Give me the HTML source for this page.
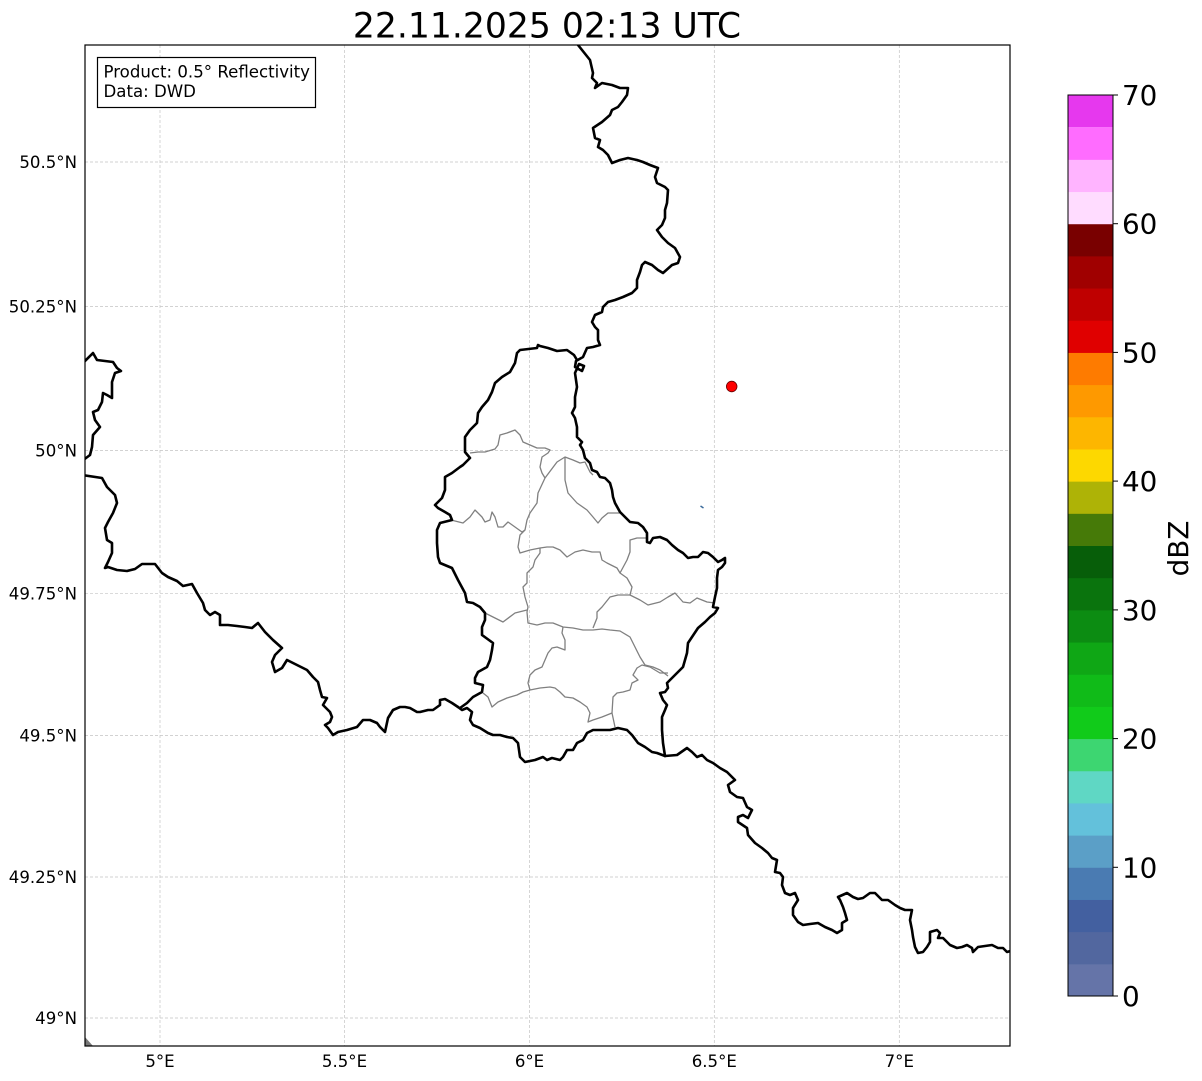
<!DOCTYPE html>
<html><head><meta charset="utf-8"><style>
html,body{margin:0;padding:0;background:#fff;}
svg{display:block;font-family:"DejaVu Sans","Liberation Sans",sans-serif;}
</style></head><body>
<svg width="1202" height="1081" viewBox="0 0 1202 1081" xmlns="http://www.w3.org/2000/svg">
<rect x="0" y="0" width="1202" height="1081" fill="#fff"/>
<text x="547" y="37.5" font-size="34.6" text-anchor="middle" fill="#000">22.11.2025 02:13 UTC</text>
<defs><clipPath id="ax"><rect x="85" y="45" width="925" height="1001"/></clipPath></defs>
<g clip-path="url(#ax)">
<g stroke="#c4c4c4" stroke-width="0.7" stroke-dasharray="3,2" fill="none">
<line x1="160" y1="45" x2="160" y2="1046"/><line x1="344.5" y1="45" x2="344.5" y2="1046"/><line x1="529.5" y1="45" x2="529.5" y2="1046"/><line x1="714.3" y1="45" x2="714.3" y2="1046"/><line x1="899.3" y1="45" x2="899.3" y2="1046"/>
<line x1="85" y1="162" x2="1010" y2="162"/><line x1="85" y1="306.5" x2="1010" y2="306.5"/><line x1="85" y1="450.5" x2="1010" y2="450.5"/><line x1="85" y1="593.3" x2="1010" y2="593.3"/><line x1="85" y1="735.4" x2="1010" y2="735.4"/><line x1="85" y1="877" x2="1010" y2="877"/><line x1="85" y1="1018" x2="1010" y2="1018"/>
</g>
<polygon points="85,1037 93,1046 85,1046" fill="#777"/>
<g stroke="#808080" stroke-width="1.3" fill="none" stroke-linejoin="round">
<path d="M470,453 L478,452 L485,452 L495,449 L498,445 L500,435 L507,433 L515,430 L520,435 L523,442 L530,445 L537,448 L545,448 L550,450 L548,453 L542,457 L540,467 L542,473 L545,478 L538,493 L537,503 L530,513 L527,520 L525,530 L520,535 L518,547 L520,553 L530,550 L540,548 L547,547 L553,547 L560,550 L567,557 L575,552 L583,550 L592,552 L600,552 L602,560 L607,563 L617,568 L620,573 L627,578 L632,587 L630,595 L640,600 L648,605 L660,602 L668,597 L675,593 L683,602 L690,603 L697,598 L707,602 L715,603"/>
<path d="M545,478 L557,462 L565,457 L573,460 L580,463 L585,462 L590,472 L593,475"/>
<path d="M565,457 L565,480 L568,493 L577,503 L587,510 L593,517 L598,523 L602,518 L608,513 L617,513 L622,513"/>
<path d="M451,520 L463,523 L470,517 L475,510 L482,517 L485,522 L490,520 L492,512 L495,517 L498,527 L503,527 L508,522 L515,527 L522,532 L525,530"/>
<path d="M620,573 L627,560 L630,552 L630,540 L637,538 L647,538"/>
<path d="M630,595 L618,595 L610,597 L602,607 L597,612 L597,618 L593,628"/>
<path d="M540,548 L540,553 L535,560 L533,567 L527,573 L527,583 L523,587 L525,597 L528,607 L527,612 L528,623 L537,625 L545,623 L553,623 L563,627 L573,628 L583,630 L593,630 L602,629 L610,630 L620,631 L630,637 L635,647 L640,657 L645,665 L653,667 L660,670 L668,676"/>
<path d="M485,613 L493,617 L503,622 L515,613 L527,610"/>
<path d="M563,627 L562,633 L565,640 L565,650 L557,647 L552,648 L548,653 L545,660 L542,667 L535,670 L530,675 L528,683 L530,690"/>
<path d="M483,693 L488,697 L492,707 L498,702 L507,698 L517,695 L523,692 L530,690 L540,688 L550,687 L555,688 L560,692 L565,697 L573,698 L580,702 L587,707 L590,713 L588,722 L593,720 L602,717 L612,713 L615,727"/>
<path d="M612,713 L613,697 L617,693 L623,692 L630,690 L632,683 L638,680 L633,675 L637,668 L642,665 L650,667 L660,673 L668,673"/>
</g>
<g stroke="#000" stroke-width="2.6" fill="none" stroke-linejoin="round" stroke-linecap="round">
<path d="M578,45 L590,60 L593,73 L592,78 L597,83 L595,88 L602,83 L612,85 L620,88 L628,88 L627,95 L622,102 L618,107 L612,110 L610,115 L602,122 L593,128 L595,138 L600,140 L598,147 L603,150 L608,155 L612,163 L620,160 L628,158 L637,160 L643,162 L650,165 L658,168 L655,177 L657,183 L665,187 L668,190 L667,203 L665,210 L665,218 L662,225 L657,230 L662,237 L668,243 L675,248 L680,257 L678,263 L672,265 L663,273 L658,270 L652,265 L645,262 L642,265 L640,272 L637,280 L637,288 L632,293 L623,297 L615,300 L608,302 L603,307 L602,312 L595,315 L592,322 L595,327 L598,330 L598,340 L600,345 L593,347 L587,348 L583,357 L576,361 L575,367 L582,371 L584,366 L579,364 L575,373 L577,387 L575,397 L575,407 L572,413 L575,418 L577,427 L577,437 L582,442 L580,445 L583,450 L585,458 L590,463 L592,470 L597,472 L600,477 L605,478 L610,483 L612,490 L613,497 L615,503 L620,512 L625,517 L630,522 L638,523 L643,527 L647,533 L647,542 L650,543 L653,538 L660,537 L667,540 L672,545 L678,550 L683,553 L688,558 L693,557 L698,557 L703,552 L708,553 L713,557 L718,562 L722,560 L725,558 L725,563 L722,567 L718,570 L717,578 L717,588 L715,597 L713,607 L718,608 L715,613 L710,617 L705,622 L698,628 L692,637 L688,643 L687,653 L685,660 L683,667 L677,673 L672,678 L667,683 L668,688 L665,692 L660,693 L663,700 L667,705 L665,710 L662,717 L662,730 L663,743 L665,756 L677,755 L687,748 L692,752 L697,757 L702,755 L707,760 L713,763 L720,768 L727,772 L735,780 L728,785 L730,792 L737,797 L743,798 L747,807 L752,810 L748,818 L743,815 L738,817 L738,822 L747,828 L748,835 L755,843 L762,848 L768,853 L772,858 L777,860 L775,872 L780,873 L783,877 L782,885 L785,893 L790,895 L795,893 L798,900 L793,908 L793,915 L798,922 L803,925 L810,924 L818,923 L825,927 L832,930 L837,933 L842,930 L842,923 L847,920 L845,913 L843,907 L840,900 L838,897 L847,893 L853,897 L858,899 L863,898 L870,893 L875,893 L882,900 L888,900 L895,905 L900,908 L905,910 L912,910 L910,920 L912,930 L913,937 L915,947 L918,953 L923,952 L927,947 L930,942 L930,932 L937,930 L940,933 L938,938 L943,938 L950,945 L957,948 L962,947 L967,945 L972,948 L973,952 L978,947 L985,946 L992,945 L998,948 L1003,948 L1007,952 L1014,950"/>
<path d="M665,756 L657,753 L652,752 L645,747 L638,743 L632,735 L627,730 L618,728 L610,730 L600,730 L593,730 L587,733 L583,740 L577,743 L573,750 L567,750 L563,757 L560,760 L552,758 L547,760 L543,757 L535,760 L525,762 L520,757 L518,743 L513,738 L507,737 L500,735 L493,735 L488,733 L480,728 L473,725 L470,720 L472,712 L467,708 L462,710 L458,707"/>
<path d="M82,475 L102,478 L107,487 L115,495 L117,503 L113,513 L108,522 L105,528 L107,540 L112,543 L112,553 L108,562 L105,568 L108,567 L117,570 L127,571 L135,569 L142,564 L155,564 L162,573 L168,577 L177,581 L183,586 L192,584 L197,593 L203,603 L205,610 L210,615 L215,612 L220,615 L220,625 L228,625 L237,626 L245,627 L252,628 L258,623 L265,632 L273,640 L282,648 L275,655 L272,662 L275,672 L282,668 L287,660 L297,665 L307,670 L313,677 L318,682 L320,690 L322,697 L327,698 L323,705 L330,712 L332,717 L330,722 L325,725 L328,728 L333,735 L338,732 L347,730 L357,727 L363,720 L370,720 L377,723 L380,727 L385,732 L388,718 L393,710 L400,707 L405,707 L410,708 L417,712 L420,712 L428,710 L433,710 L440,705 L440,700 L445,699 L452,703 L458,707"/>
<path d="M577,360 L574,355 L567,350 L557,351 L548,348 L540,346 L538,345 L537,348 L520,350 L517,353 L515,363 L510,372 L502,377 L495,383 L492,392 L488,400 L482,407 L478,413 L477,423 L470,430 L465,437 L465,452 L470,458 L463,465 L460,467 L452,473 L445,477 L445,490 L442,498 L435,505 L438,508 L445,512 L450,515 L452,520 L440,523 L437,530 L437,543 L438,557 L440,563 L452,568 L458,580 L465,593 L467,602 L473,603 L480,607 L485,613 L485,620 L482,627 L482,635 L493,643 L492,650 L490,660 L487,667 L478,672 L475,678 L475,683 L483,685 L482,692 L473,697 L467,703 L460,708"/>
<path d="M82,364 L93,353 L97,360 L113,362 L117,368 L121,371 L115,373 L112,382 L112,398 L107,395 L103,393 L102,402 L98,410 L93,412 L95,420 L100,427 L93,435 L92,447 L90,455 L86,458 L82,461"/>
</g>
<circle cx="731.7" cy="386.5" r="5.3" fill="#ff0000" stroke="#600" stroke-width="0.8"/>
<line x1="700.5" y1="506" x2="703.5" y2="508" stroke="#3a6a9a" stroke-width="1.5"/>
</g>
<rect x="85" y="45" width="925" height="1001" fill="none" stroke="#000" stroke-width="1.2"/>
<rect x="97.5" y="57.5" width="218" height="50" fill="#fff" stroke="#000" stroke-width="1.2"/>
<text x="103.5" y="77.3" font-size="16.6" fill="#000">Product: 0.5° Reflectivity</text>
<text x="103.5" y="96.8" font-size="16.6" fill="#000">Data: DWD</text>
<g font-size="16.6" fill="#000" text-anchor="end">
<text x="77" y="168">50.5°N</text><text x="77" y="312.5">50.25°N</text><text x="77" y="456.5">50°N</text><text x="77" y="599.3">49.75°N</text><text x="77" y="741.4">49.5°N</text><text x="77" y="883">49.25°N</text><text x="77" y="1024">49°N</text>
</g>
<g font-size="16.6" fill="#000" text-anchor="middle">
<text x="160" y="1067">5°E</text><text x="344.5" y="1067">5.5°E</text><text x="529.5" y="1067">6°E</text><text x="714.3" y="1067">6.5°E</text><text x="899.3" y="1067">7°E</text>
</g>
<g>
<rect x="1068" y="963.82" width="45" height="32.68" fill="#6574a8"/>
<rect x="1068" y="931.64" width="45" height="32.68" fill="#52679f"/>
<rect x="1068" y="899.46" width="45" height="32.68" fill="#4360a0"/>
<rect x="1068" y="867.29" width="45" height="32.68" fill="#4a7bb2"/>
<rect x="1068" y="835.11" width="45" height="32.68" fill="#5b9fc7"/>
<rect x="1068" y="802.93" width="45" height="32.68" fill="#63c1db"/>
<rect x="1068" y="770.75" width="45" height="32.68" fill="#5fd7c4"/>
<rect x="1068" y="738.57" width="45" height="32.68" fill="#3dd671"/>
<rect x="1068" y="706.39" width="45" height="32.68" fill="#11cb1a"/>
<rect x="1068" y="674.21" width="45" height="32.68" fill="#10bb18"/>
<rect x="1068" y="642.04" width="45" height="32.68" fill="#0fa715"/>
<rect x="1068" y="609.86" width="45" height="32.68" fill="#0c8c12"/>
<rect x="1068" y="577.68" width="45" height="32.68" fill="#0a740d"/>
<rect x="1068" y="545.50" width="45" height="32.68" fill="#075e09"/>
<rect x="1068" y="513.32" width="45" height="32.68" fill="#467a08"/>
<rect x="1068" y="481.14" width="45" height="32.68" fill="#aeb306"/>
<rect x="1068" y="448.96" width="45" height="32.68" fill="#fdd800"/>
<rect x="1068" y="416.79" width="45" height="32.68" fill="#fdb600"/>
<rect x="1068" y="384.61" width="45" height="32.68" fill="#fe9900"/>
<rect x="1068" y="352.43" width="45" height="32.68" fill="#fe7b00"/>
<rect x="1068" y="320.25" width="45" height="32.68" fill="#e00000"/>
<rect x="1068" y="288.07" width="45" height="32.68" fill="#bf0000"/>
<rect x="1068" y="255.89" width="45" height="32.68" fill="#a00000"/>
<rect x="1068" y="223.71" width="45" height="32.68" fill="#790000"/>
<rect x="1068" y="191.54" width="45" height="32.68" fill="#ffdcff"/>
<rect x="1068" y="159.36" width="45" height="32.68" fill="#ffb4ff"/>
<rect x="1068" y="127.18" width="45" height="32.68" fill="#ff6cff"/>
<rect x="1068" y="95" width="45" height="32.18" fill="#e638ee"/>
<rect x="1068" y="95" width="45" height="901" fill="none" stroke="#000" stroke-width="1"/>
</g>
<g stroke="#000" stroke-width="1">
<line x1="1113" y1="996" x2="1118" y2="996"/><line x1="1113" y1="867.3" x2="1118" y2="867.3"/><line x1="1113" y1="738.6" x2="1118" y2="738.6"/><line x1="1113" y1="609.9" x2="1118" y2="609.9"/><line x1="1113" y1="481.1" x2="1118" y2="481.1"/><line x1="1113" y1="352.4" x2="1118" y2="352.4"/><line x1="1113" y1="223.7" x2="1118" y2="223.7"/><line x1="1113" y1="95" x2="1118" y2="95"/>
</g>
<g font-size="27.8" fill="#000">
<text x="1122" y="1006">0</text><text x="1122" y="877.3">10</text><text x="1122" y="748.6">20</text><text x="1122" y="619.9">30</text><text x="1122" y="491.1">40</text><text x="1122" y="362.4">50</text><text x="1122" y="233.7">60</text><text x="1122" y="105">70</text>
</g>
<text x="0" y="0" font-size="27.8" fill="#000" text-anchor="middle" transform="translate(1188,548.5) rotate(-90)">dBZ</text>
</svg>
</body></html>
